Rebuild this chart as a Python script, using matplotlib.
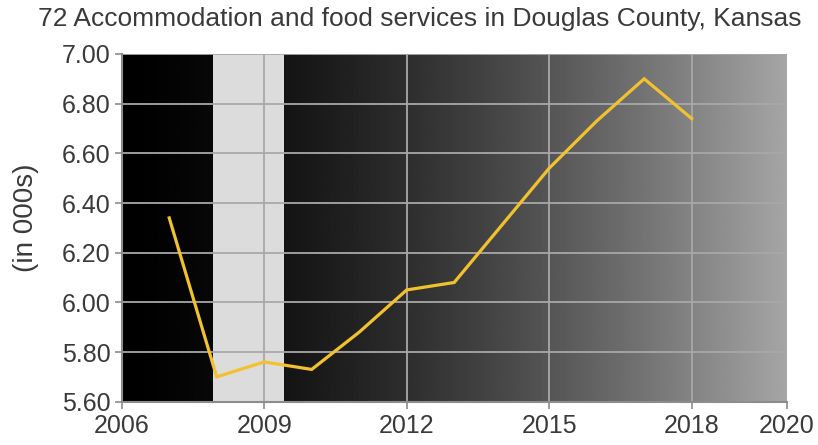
import matplotlib
matplotlib.use("Agg")
import matplotlib.pyplot as plt
import numpy as np

plt.rcParams["font.family"] = ["Liberation Sans", "DejaVu Sans"]

title = "72 Accommodation and food services in Douglas County, Kansas"
years = [2007, 2008, 2009, 2010, 2011, 2012, 2013, 2014, 2015, 2016, 2017, 2018]
employment = [6.34, 5.70, 5.76, 5.73, 5.88, 6.05, 6.08, 6.31, 6.54, 6.73, 6.90, 6.74]
recession = (2007.92, 2009.42)
x_ticks = [2006, 2009, 2012, 2015, 2018, 2020]
y_ticks = [5.6, 5.8, 6.0, 6.2, 6.4, 6.6, 6.8, 7.0]

fig = plt.figure(figsize=(8.18, 4.45), dpi=100)
ax = fig.add_axes([0.1488, 0.0973, 0.8129, 0.7814])

xmin, xmax = 2006, 2020
ymin, ymax = 5.6, 7.0

# background gradient: black on the left, light grey on the right
grad = np.linspace(0, 1, 512) ** 1.5 * 0.65
ax.imshow(grad[np.newaxis, :], cmap="gray", vmin=0, vmax=1, aspect="auto",
          extent=[xmin, xmax, ymin, ymax], zorder=0, interpolation="bilinear")
ax.axvspan(recession[0], recession[1], color="#dcdcdc", zorder=1, lw=0)

ax.set_xlim(xmin, xmax)
ax.set_ylim(ymin, ymax)
ax.set_xticks(x_ticks)
ax.set_yticks(y_ticks)
ax.set_yticklabels([f"{v:.2f}" for v in y_ticks])
ax.grid(True, color="#a8a8a8", lw=1.3, zorder=2)
ax.set_axisbelow(False)

ax.plot(years, employment, color="#f2c12e", lw=2.3, zorder=3,
        solid_joinstyle="miter")

for side in ["top", "right"]:
    ax.spines[side].set_visible(False)
for side in ["left", "bottom"]:
    ax.spines[side].set_color("#8c8c8c")
    ax.spines[side].set_linewidth(1.5)
    ax.spines[side].set_zorder(4)
ax.tick_params(axis="both", colors="#8c8c8c", labelcolor="#3a3a3a",
               labelsize=18, length=5, width=1.2)
ax.tick_params(axis="x", pad=4)
ax.tick_params(axis="y", pad=3)

fig.text(420 / 818, 1 - 19 / 445, title, ha="center", va="center",
         fontsize=19, color="#3a3a3a")
fig.text(26 / 818, 1 - 218 / 445, "(in 000s)", rotation=90, ha="center",
         va="center", fontsize=20, color="#3a3a3a")

fig.savefig("out.png", dpi=100)
